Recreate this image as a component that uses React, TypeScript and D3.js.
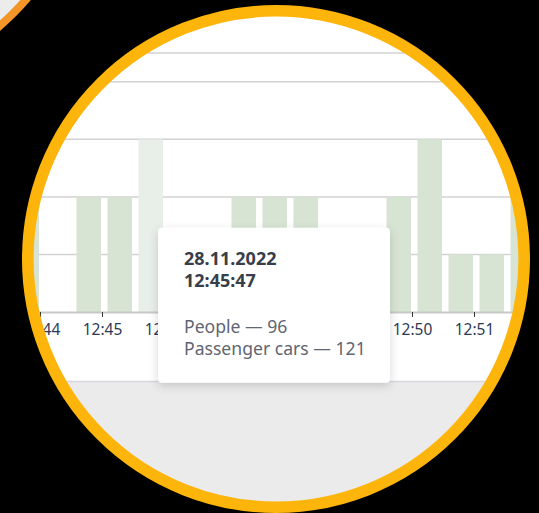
import React, { useEffect, useRef } from 'react';
import * as d3 from 'd3';

// 30 second bins, value in grid units
const binTimes = [
  '12:43:30', '12:44:00', '12:44:30', '12:45:00', '12:45:30', '12:46:00',
  '12:46:30', '12:47:00', '12:47:30', '12:48:00', '12:48:30', '12:49:00',
  '12:49:30', '12:50:00', '12:50:30', '12:51:00', '12:51:30',
];
const barValues = [2, 0, 2, 2, 3, 0, 0, 2, 2, 2, 0, 0, 2, 3, 1, 1, 2];
const gridValues = [1, 2, 3, 4];
const tickTimes = ['12:44', '12:45', '12:46', '12:47', '12:48', '12:49', '12:50', '12:51'];
const hoveredBin = '12:45:30';

const tooltipDate = '28.11.2022';
const tooltipTime = '12:45:47';
const seriesNames = ['People', 'Passenger cars'];
const seriesValues = [96, 121];

const W = 539;
const H = 513;

export default function App() {
  const ref = useRef<SVGSVGElement>(null);

  const createChart = () => {
    const svg = d3.select(ref.current);
    svg.selectAll('*').remove();

    const parse = d3.timeParse('%Y-%m-%d %H:%M:%S');
    const t = (s: string) => parse('2022-11-28 ' + (s.length === 5 ? s + ':00' : s)) as Date;

    const cx = 276;
    const cy = 259;

    const x_scale = d3
      .scaleTime()
      .domain([t('12:43:00'), t('12:53:00')])
      .range([-22, 598]);
    const y_scale = d3.scaleLinear().domain([0, 4.5]).range([312, 53]);

    const defs = svg.append('defs');
    defs
      .append('clipPath')
      .attr('id', 'lens')
      .append('circle')
      .attr('cx', cx)
      .attr('cy', cy)
      .attr('r', 244);
    const shadow = defs
      .append('filter')
      .attr('id', 'shadow')
      .attr('x', '-20%')
      .attr('y', '-20%')
      .attr('width', '140%')
      .attr('height', '140%');
    shadow
      .append('feDropShadow')
      .attr('dx', 0)
      .attr('dy', 3)
      .attr('stdDeviation', 5)
      .attr('flood-color', '#000')
      .attr('flood-opacity', 0.16);

    svg.append('rect').attr('width', W).attr('height', H).attr('fill', '#000');

    // neighbouring lens in the corner
    svg
      .append('circle')
      .attr('cx', -166)
      .attr('cy', -166)
      .attr('r', 253.5)
      .attr('fill', '#ececec')
      .attr('stroke', '#f39527')
      .attr('stroke-width', 8);

    const chart = svg.append('g').attr('clip-path', 'url(#lens)');

    chart.append('rect').attr('width', W).attr('height', H).attr('fill', '#fff');
    chart
      .append('rect')
      .attr('y', 382)
      .attr('width', W)
      .attr('height', H - 382)
      .attr('fill', '#ebebeb');
    chart
      .append('line')
      .attr('x1', 0)
      .attr('x2', W)
      .attr('y1', 381.5)
      .attr('y2', 381.5)
      .style('stroke', '#d6d7de')
      .style('stroke-width', 1.5);

    // grid
    chart
      .selectAll()
      .data([...gridValues, 4.5])
      .enter()
      .append('line')
      .attr('x1', 0)
      .attr('x2', W)
      .attr('y1', (d) => y_scale(d))
      .attr('y2', (d) => y_scale(d))
      .style('stroke', '#d2d2d2')
      .style('stroke-width', 1.5);

    const bins = binTimes.map((s, i) => ({ key: s, start: t(s), value: barValues[i] }));

    chart
      .selectAll()
      .data(bins.filter((d) => d.value > 0))
      .enter()
      .append('rect')
      .attr('x', (d) => x_scale(d.start) + 5.5)
      .attr('width', (d) => x_scale(d3.timeSecond.offset(d.start, 30)) - x_scale(d.start) - 6.5)
      .attr('y', (d) => y_scale(d.value))
      .attr('height', (d) => y_scale(0) - y_scale(d.value))
      .style('fill', (d) => (d.key === hoveredBin ? '#e8eee8' : '#d7e4d3'));

    const x_axis = d3
      .axisBottom(x_scale)
      .tickValues(tickTimes.map(t))
      .tickFormat(d3.timeFormat('%H:%M') as any)
      .tickSize(5)
      .tickSizeOuter(0);

    const axis = chart
      .append('g')
      .attr('transform', 'translate(0,' + y_scale(0) + ')')
      .call(x_axis);
    axis.select('.domain').style('stroke', '#c8c8c8').style('stroke-width', 2);
    axis.selectAll('.tick line').style('stroke', '#3a3a3a');
    axis
      .selectAll('.tick text')
      .attr('y', 11.5)
      .style('font-family', '"Noto Sans", sans-serif')
      .style('font-size', '15.5px')
      .style('fill', '#2d3a56');

    // tooltip for the hovered bar
    const hover = t(hoveredBin);
    const tipX = x_scale(d3.timeSecond.offset(hover, 30)) - 6;
    const tipY = y_scale(1.5) + 2;
    const tip = chart.append('g').attr('transform', 'translate(' + tipX + ',' + tipY + ')');
    tip
      .append('rect')
      .attr('width', 232)
      .attr('height', 155)
      .attr('rx', 4)
      .style('fill', '#fff')
      .attr('filter', 'url(#shadow)');
    tip
      .selectAll()
      .data([tooltipDate, tooltipTime])
      .enter()
      .append('text')
      .attr('x', 26)
      .attr('y', (d, i) => 37.5 + i * 22)
      .style('font-family', '"Noto Sans", sans-serif')
      .style('font-size', '18px')
      .style('font-weight', 'bold')
      .style('fill', '#383e4a')
      .text((d) => d);
    tip
      .selectAll()
      .data(seriesNames)
      .enter()
      .append('text')
      .attr('x', 26)
      .attr('y', (d, i) => 105.5 + i * 22)
      .style('font-family', '"Noto Sans", sans-serif')
      .style('font-size', '17.6px')
      .style('fill', '#5f6571')
      .text((d, i) => d + ' \u2014 ' + seriesValues[i]);

    // lens ring
    svg
      .append('circle')
      .attr('cx', cx)
      .attr('cy', cy)
      .attr('r', 248.2)
      .style('fill', 'none')
      .style('stroke', '#fdb50b')
      .style('stroke-width', 11.6);
  };

  useEffect(() => {
    createChart();
  }, []);

  return (
    <svg
      ref={ref}
      width={W}
      height={H}
      style={{ position: 'absolute', left: 0, top: 0, display: 'block' }}
    />
  );
}
